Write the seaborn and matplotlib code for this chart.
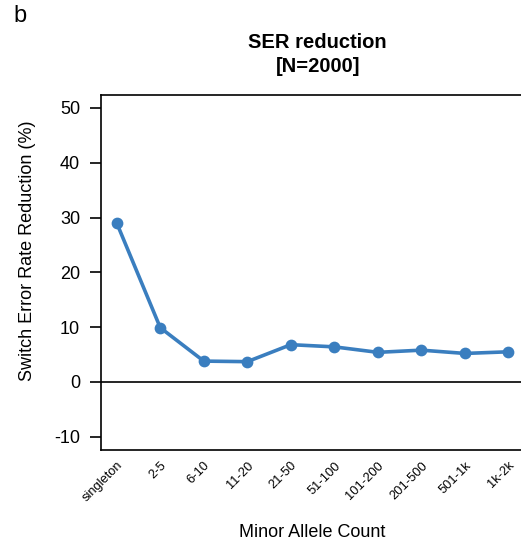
import pandas as pd
import matplotlib
matplotlib.use("Agg")
import matplotlib.pyplot as plt
import seaborn as sns

# data
mac_bins = ["singleton", "2-5", "6-10", "11-20", "21-50", "51-100",
            "101-200", "201-500", "501-1k", "1k-2k"]
ser_reduction = [29.0, 9.9, 3.8, 3.7, 6.8, 6.4, 5.4, 5.8, 5.2, 5.5]
y_ticks = [-10, 0, 10, 20, 30, 40, 50]

df = pd.DataFrame({"mac": mac_bins, "ser": ser_reduction})

sns.set_theme(style="ticks")
plt.rcParams["font.family"] = ["Liberation Sans", "DejaVu Sans"]
plt.rcParams["axes.unicode_minus"] = False
for key in ["text.color", "axes.labelcolor", "xtick.color", "ytick.color"]:
    plt.rcParams[key] = "black"

fig = plt.figure(figsize=(5.21, 5.42), dpi=100)
ax = fig.add_axes([0.194, 0.170, 0.812, 0.655])

sns.pointplot(data=df, x="mac", y="ser", order=mac_bins, color="#3a7ebf",
              markers="o", markersize=6.5, linewidth=2.6, ax=ax)

ax.axhline(0, color="black", linewidth=1.2, zorder=0)

ax.set_xlim(-0.36, len(mac_bins) - 1 + 0.36)
ax.set_ylim(-12.4, 52.4)
ax.set_yticks(y_ticks)
ax.tick_params(axis="y", labelsize=13, length=8, width=1.2, pad=7, direction="out")
ax.tick_params(axis="x", length=0, pad=7, labelsize=9.3)
plt.setp(ax.get_xticklabels(), rotation=45, ha="right", rotation_mode="anchor")

for s in ax.spines.values():
    s.set_visible(True)
    s.set_linewidth(1.2)
    s.set_color("black")

ax.set_xlabel("Minor Allele Count", fontsize=13, labelpad=14)
ax.set_ylabel("Switch Error Rate Reduction (%)", fontsize=13)
ax.yaxis.set_label_coords(-0.154, 0.56)

fig.text(0.610, 1 - 43 / 542, "SER reduction", ha="center", va="center",
         fontsize=14.5, fontweight="bold")
fig.text(0.610, 1 - 67 / 542, "[N=2000]", ha="center", va="center",
         fontsize=14.5, fontweight="bold")
fig.text(0.025, 1 - 16 / 542, "b", ha="left", va="center", fontsize=17)

fig.savefig("out.png", dpi=100)
